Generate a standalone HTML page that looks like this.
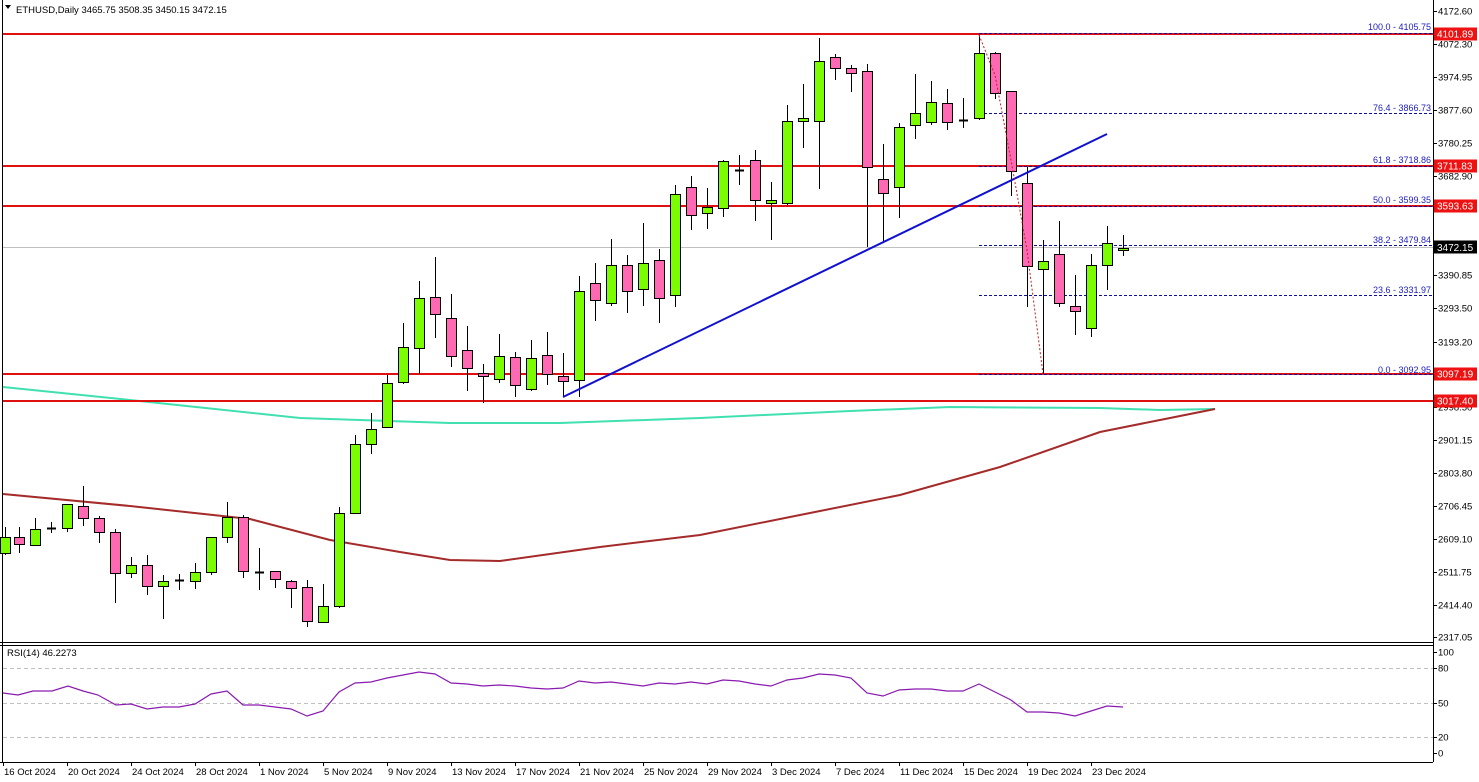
<!DOCTYPE html>
<html><head><meta charset="utf-8"><style>
html,body{margin:0;padding:0;background:#fff;width:1479px;height:782px;overflow:hidden}
svg{display:block;font-family:"Liberation Sans",sans-serif}
</style></head><body>
<svg id="c" width="1479" height="782" xmlns="http://www.w3.org/2000/svg">
<rect x="0" y="0" width="1479" height="782" fill="#fff"/>
<g id="bg"></g>
<g id="cd"></g>
<g id="fg"></g>
</svg>
<script>
const NS="http://www.w3.org/2000/svg";
function el(p,t,a,txt){const e=document.createElementNS(NS,t);for(const k in a)e.setAttribute(k,a[k]);if(txt!==undefined)e.textContent=txt;document.getElementById(p).appendChild(e);return e;}
// frames
el('bg','line',{x1:1433.5,y1:0,x2:1433.5,y2:762,stroke:'#000'});
el('bg','line',{x1:2.5,y1:0,x2:2.5,y2:762,stroke:'#000'});
el('bg','line',{x1:0,y1:642.5,x2:1433,y2:642.5,stroke:'#000'});
el('bg','line',{x1:0,y1:645.5,x2:1433,y2:645.5,stroke:'#000'});
el('bg','line',{x1:0,y1:762.5,x2:1433,y2:762.5,stroke:'#000'});
// grey current price line
el('bg','line',{x1:3,y1:247.5,x2:1433,y2:247.5,stroke:'#c0c0c0'});
// MAs
el('bg','polyline',{points:'3,387 130,400 300,418 450,423 560,423 700,418 850,411 950,407 1100,408 1160,410 1215,409',fill:'none',stroke:'#40e0b0','stroke-width':2});
el('bg','polyline',{points:'3,494 130,506 250,519 330,540 400,552 450,560 500,561 600,547 700,535 800,515 900,495 1000,467 1100,432 1160,420 1215,409',fill:'none',stroke:'#a52a2a','stroke-width':2});
// red horizontals
[34,166,206,374,401].forEach(y=>el('bg','line',{x1:3,y1:y,x2:1433,y2:y,stroke:'#e01010','stroke-width':2}));
// fib dotted
[33,113,166,206,245,295,374].forEach(y=>el('bg','line',{x1:979,y1:y+0.5,x2:1433,y2:y+0.5,stroke:'#1010a0','stroke-dasharray':'3,2'}));
const fl=[[28,'100.0 - 4105.75'],[109,'76.4 - 3866.73'],[161,'61.8 - 3718.86'],[201,'50.0 - 3599.35'],[241,'38.2 - 3479.84'],[291,'23.6 - 3331.97'],[371,'0.0 - 3092.95']];
fl.forEach(f=>el('fg','text',{x:1431,y:f[0]+2,'font-size':9,fill:'#2020c0','text-anchor':'end'},f[1]));
// candles: [x, top, bottom, high, low, type]
const C=[[5,537,553,527,555,'g'],[19,537,544,527,553,'p'],[35,529,545,518,546,'g'],[51,528,528,522,533,'d'],[67,504,528,504,532,'g'],[83,506,518,486,526,'p'],[99,518,532,516,543,'p'],[115,532,573,529,603,'p'],[131,565,573,557,578,'g'],[147,565,586,555,595,'p'],[163,581,586,575,619,'g'],[179,580,580,574,590,'d'],[195,572,581,563,589,'g'],[211,537,572,537,575,'g'],[227,517,537,502,543,'g'],[243,517,571,515,578,'p'],[259,572,572,548,590,'d'],[275,571,579,571,588,'p'],[291,581,588,580,608,'p'],[307,587,621,580,627,'p'],[323,606,622,584,622,'g'],[339,513,606,507,608,'g'],[355,444,513,435,514,'g'],[371,429,444,413,454,'g'],[387,383,427,375,428,'g'],[403,347,382,323,384,'g'],[419,298,348,281,374,'g'],[435,297,314,257,338,'p'],[451,318,356,294,367,'p'],[467,350,368,326,391,'p'],[483,373,376,364,403,'p'],[499,356,379,334,383,'g'],[515,357,385,352,397,'p'],[531,358,389,340,391,'g'],[547,355,374,332,385,'p'],[563,376,381,353,397,'p'],[579,291,380,276,397,'g'],[595,283,300,263,321,'p'],[611,265,303,239,306,'g'],[627,265,291,255,313,'p'],[643,263,289,223,306,'g'],[659,260,298,249,323,'p'],[675,194,295,185,307,'g'],[691,187,215,176,230,'p'],[707,207,213,188,229,'g'],[723,161,208,160,217,'g'],[739,170,170,155,185,'d'],[755,160,200,150,221,'p'],[771,200,203,182,240,'g'],[787,121,203,105,205,'g'],[803,118,121,84,148,'g'],[819,61,121,38,189,'g'],[835,57,68,54,80,'p'],[851,68,73,65,92,'p'],[867,71,167,64,247,'p'],[883,179,193,144,242,'p'],[899,127,187,123,218,'g'],[915,113,125,74,139,'g'],[931,102,122,81,125,'g'],[947,103,122,89,130,'p'],[963,120,120,98,128,'d'],[979,53,118,35,120,'g'],[995,53,93,52,99,'p'],[1011,91,171,91,196,'p'],[1027,183,266,167,307,'p'],[1043,261,269,240,374,'g'],[1059,254,303,221,307,'p'],[1075,306,311,275,335,'p'],[1091,265,328,254,337,'g'],[1107,243,265,226,290,'g'],[1123,248,249,235,256,'g']];
C.forEach(c=>{const[x,t,b,h,l,ty]=c;
 el('cd','line',{x1:x+0.5,y1:h,x2:x+0.5,y2:l,stroke:'#000'});
 if(ty==='d'){el('cd','line',{x1:x-4,y1:t+0.5,x2:x+5,y2:t+0.5,stroke:'#000','stroke-width':2});}
 else el('cd','rect',{x:x-4.5,y:t+0.5,width:10,height:Math.max(b-t,2),fill:ty==='g'?'#7cfc00':'#ff69b4',stroke:'#000'});
});
// trend lines
el('fg','line',{x1:563,y1:397,x2:1107,y2:134,stroke:'#1010d0','stroke-width':2});
el('fg','polyline',{points:'979,35 995,75 1011,160 1027,250 1043,374',fill:'none',stroke:'#c02020','stroke-dasharray':'2,2'});
// right axis labels
const al=[[11,'4172.60'],[44,'4072.30'],[77,'3974.95'],[110,'3877.60'],[143,'3780.25'],[176,'3682.90'],[275,'3390.85'],[308,'3293.50'],[342,'3193.20'],[407,'2998.50'],[440,'2901.15'],[473,'2803.80'],[506,'2706.45'],[539,'2609.10'],[572,'2511.75'],[605,'2414.40'],[637,'2317.05']];
al.forEach(a=>{el('fg','line',{x1:1433,y1:a[0]+0.5,x2:1437,y2:a[0]+0.5,stroke:'#000'});el('fg','text',{x:1438,y:a[0]+3.5,'font-size':9.5,fill:'#000'},a[1]);});
[[34,'4101.89'],[166,'3711.83'],[206,'3593.63'],[374,'3097.19'],[401,'3017.40']].forEach(a=>{el('fg','rect',{x:1434,y:a[0]-6.5,width:43,height:13,fill:'#ee1111'});el('fg','text',{x:1437,y:a[0]+3.5,'font-size':10,fill:'#fff'},a[1]);});
el('fg','rect',{x:1434,y:240.5,width:43,height:13,fill:'#000'});el('fg','text',{x:1437,y:251,'font-size':10,fill:'#fff'},'3472.15');
// title
el('fg','polygon',{points:'5,5 11,5 8,9',fill:'#000'});
el('fg','text',{x:16,y:13,'font-size':9.5,fill:'#000'},'ETHUSD,Daily  3465.75 3508.35 3450.15 3472.15');
// RSI
[668,703,737].forEach(y=>el('bg','line',{x1:3,y1:y+0.5,x2:1433,y2:y+0.5,stroke:'#c0c0c0','stroke-dasharray':'4,3'}));
el('fg','text',{x:7,y:656,'font-size':9.5,fill:'#000'},'RSI(14) 46.2273');
[[652,'100'],[668,'80'],[703,'50'],[737,'20'],[753,'0']].forEach(a=>{el('fg','line',{x1:1433,y1:a[0]+0.5,x2:1437,y2:a[0]+0.5,stroke:'#000'});el('fg','text',{x:1438,y:a[0]+3.5,'font-size':9.5,fill:'#000'},a[1]);});
const R=[[3,693],[18,695],[33,691],[52,691],[68,686],[83,691],[98,695],[116,705],[131,704],[147,709],[163,707],[179,707],[195,704],[211,694],[227,691],[243,705],[259,705],[275,707],[291,709],[307,716],[323,711],[339,692],[355,683],[371,682],[387,678],[403,675],[419,672],[435,674],[451,683],[467,684],[483,686],[499,685],[515,686],[531,688],[547,689],[563,688],[579,681],[595,683],[611,682],[627,684],[643,686],[659,683],[675,684],[691,682],[707,684],[723,680],[739,681],[755,684],[771,686],[787,680],[803,678],[819,674],[835,675],[851,678],[867,693],[883,696],[899,690],[915,689],[931,689],[947,691],[963,691],[979,684],[995,692],[1011,700],[1027,712],[1043,712],[1059,713],[1075,716],[1091,711],[1107,706],[1123,707]];
el('fg','polyline',{points:R.map(p=>p.join(',')).join(' '),fill:'none',stroke:'#8a1ab0','stroke-width':1.2});
// dates
const D=['16 Oct 2024','20 Oct 2024','24 Oct 2024','28 Oct 2024','1 Nov 2024','5 Nov 2024','9 Nov 2024','13 Nov 2024','17 Nov 2024','21 Nov 2024','25 Nov 2024','29 Nov 2024','3 Dec 2024','7 Dec 2024','11 Dec 2024','15 Dec 2024','19 Dec 2024','23 Dec 2024'];
D.forEach((d,i)=>{const x=3+64*i;el('fg','line',{x1:x+0.5,y1:762,x2:x+0.5,y2:766,stroke:'#000'});el('fg','text',{x:x+1,y:775,'font-size':9.5,fill:'#000'},d);});
</script>
</body></html>
